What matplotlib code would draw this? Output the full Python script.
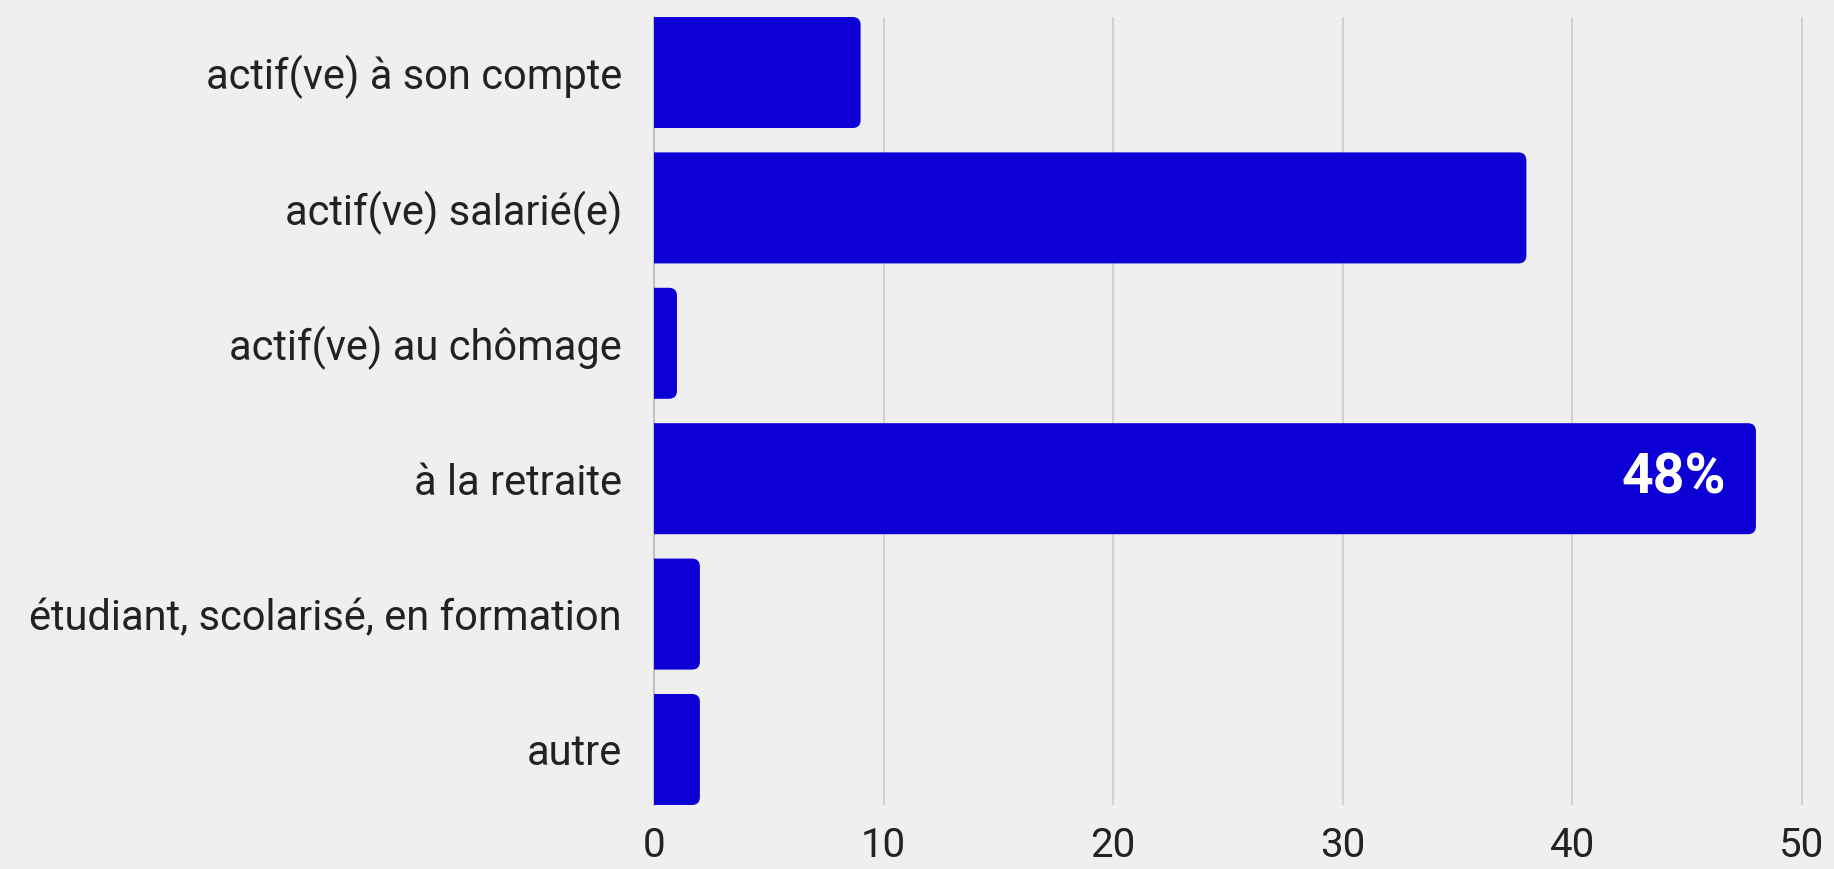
import matplotlib
matplotlib.use('Agg')
import matplotlib.pyplot as plt
from matplotlib.patches import FancyBboxPatch

# Données
categories = ['actif(ve) à son compte', 'actif(ve) salarié(e)', 'actif(ve) au chômage',
              'à la retraite', 'étudiant, scolarisé, en formation', 'autre']
valeurs = [9, 38, 1, 48, 2, 2]
etiquettes = ['', '', '', '48%', '', '']
graduations = [0, 10, 20, 30, 40, 50]

fond = '#efefef'
bleu = '#0c00d4'
texte = '#222222'

plt.rcParams['font.family'] = ['Roboto', 'DejaVu Sans']

fig = plt.figure(figsize=(18.34, 8.69), dpi=100, facecolor=fond)
ax = fig.add_axes([654 / 1834, 1 - 805 / 869, (1803 - 654) / 1834, (805 - 17) / 869])
ax.set_facecolor(fond)

hauteur = 0.82
n = len(categories)
ax.set_xlim(0, 50.05)
ax.set_ylim(n - 1 + hauteur / 2, -hauteur / 2)

# rapport pixels pour des coins ronds bien circulaires
fig.canvas.draw()
px_x = ax.transData.transform((1, 0))[0] - ax.transData.transform((0, 0))[0]
px_y = abs(ax.transData.transform((0, 1))[1] - ax.transData.transform((0, 0))[1])
aspect = px_x / px_y
rayon = 8 / px_x

for i, v in enumerate(valeurs):
    barre = FancyBboxPatch((-1, i - hauteur / 2), v + 1, hauteur,
                           boxstyle=f'round,pad=0,rounding_size={rayon}',
                           mutation_aspect=aspect, facecolor=bleu, edgecolor='none',
                           zorder=3, clip_on=True)
    ax.add_patch(barre)
    if etiquettes[i]:
        ax.text(v - 1.3, i, etiquettes[i], color='white', fontsize=40, fontweight='bold',
                ha='right', va='center', zorder=4)

ax.set_xticks(graduations)
ax.set_xticklabels([str(g) for g in graduations], fontsize=29, color=texte)
ax.set_yticks(range(n))
ax.set_yticklabels(categories, fontsize=30, color=texte)
ax.tick_params(axis='x', length=0, pad=15)
ax.tick_params(axis='y', length=0, pad=23)
ax.grid(axis='x', color='#cccccc', linewidth=1.2, zorder=0)
ax.set_axisbelow(True)
for s in ['top', 'right', 'bottom']:
    ax.spines[s].set_visible(False)
ax.spines['left'].set_color('#bbbbbb')
ax.spines['left'].set_linewidth(1.2)

fig.savefig('out.png', dpi=100, facecolor=fond)
